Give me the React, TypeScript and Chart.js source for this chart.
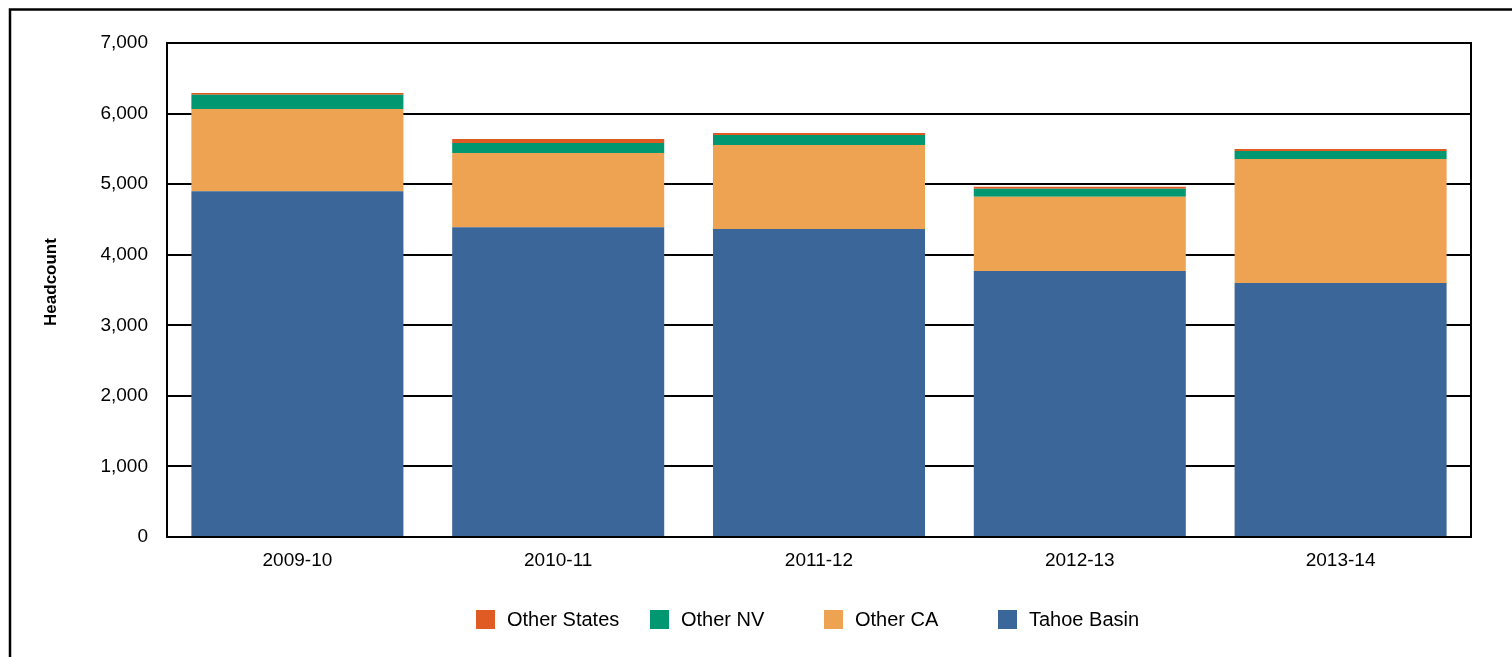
import React, { useEffect, useRef } from "react";
import { Chart, registerables } from "chart.js";

Chart.register(...registerables);

const categories = ["2009-10", "2010-11", "2011-12", "2012-13", "2013-14"];
const tahoeBasin = [4900, 4390, 4365, 3770, 3600];
const otherCA = [1165, 1050, 1190, 1050, 1755];
const otherNV = [200, 142, 141, 113, 114];
const otherStates = [28, 57, 29, 29, 28];
const yTicksMax = 7000;
const yTickStep = 1000;
const yTitle = "Headcount";

const seriesNames = ["Tahoe Basin", "Other CA", "Other NV", "Other States"];
const seriesColors = ["#3B6699", "#EEA353", "#009771", "#E05A23"];

const FONT = "'Liberation Sans', Arial, sans-serif";

const decorPlugin = {
  id: "decor",
  afterDraw(chart: any) {
    const { ctx, chartArea } = chart;
    ctx.save();
    // outer frame
    ctx.strokeStyle = "#000";
    ctx.lineWidth = 2.5;
    ctx.beginPath();
    ctx.moveTo(10, 700);
    ctx.lineTo(10, 9.5);
    ctx.lineTo(1520, 9.5);
    ctx.stroke();
    // plot frame
    ctx.lineWidth = 2;
    ctx.strokeRect(chartArea.left, chartArea.top, chartArea.right - chartArea.left, chartArea.bottom - chartArea.top);
    // y title
    ctx.fillStyle = "#000";
    ctx.font = `bold 17px ${FONT}`;
    ctx.textAlign = "center";
    ctx.textBaseline = "middle";
    ctx.translate(51, 282);
    ctx.rotate(-Math.PI / 2);
    ctx.fillText(yTitle, 0, 0);
    ctx.restore();

    // legend (reverse order of stacking)
    ctx.save();
    const ds = chart.data.datasets.slice().reverse();
    const startX = 476;
    const step = 174;
    const boxY = 610;
    const box = 19;
    ctx.font = `20px ${FONT}`;
    ctx.textBaseline = "middle";
    ctx.textAlign = "left";
    ds.forEach((d: any, i: number) => {
      const x = startX + i * step;
      ctx.fillStyle = d.backgroundColor;
      ctx.fillRect(x, boxY, box, box);
      ctx.fillStyle = "#000";
      ctx.fillText(d.label, x + box + 12, boxY + box / 2 + 1);
    });
    ctx.restore();
  },
};

export default function App() {
  const ref = useRef<HTMLCanvasElement>(null);
  useEffect(() => {
    if (!ref.current) return;
    const values = [tahoeBasin, otherCA, otherNV, otherStates];
    const chart = new Chart(ref.current, {
      type: "bar",
      data: {
        labels: categories,
        datasets: values.map((v, i) => ({
          label: seriesNames[i],
          data: v,
          backgroundColor: seriesColors[i],
          borderWidth: 0,
          barPercentage: 1,
          categoryPercentage: 0.813,
        })),
      },
      options: {
        animation: false,
        responsive: false,
        maintainAspectRatio: false,
        layout: { padding: { left: 0, top: 43, right: 41, bottom: 0 } },
        plugins: { legend: { display: false }, tooltip: { enabled: false }, title: { display: false } },
        scales: {
          x: {
            stacked: true,
            grid: { display: false, drawTicks: false },
            border: { display: false },
            ticks: { color: "#000", font: { family: FONT, size: 19 }, padding: 12 },
            afterFit(scale: any) {
              scale.height = 120;
            },
          },
          y: {
            stacked: true,
            min: 0,
            max: yTicksMax,
            grid: { color: "#000", lineWidth: 2, drawTicks: false },
            border: { display: false },
            ticks: { stepSize: yTickStep, color: "#000", font: { family: FONT, size: 19 }, padding: 19 },
            afterFit(scale: any) {
              scale.width = 167;
            },
          },
        },
      },
      plugins: [decorPlugin],
    });
    return () => chart.destroy();
  }, []);
  return (
    <div style={{ position: "fixed", left: 0, top: 0, width: 1512, height: 657, background: "#fff" }}>
      <canvas ref={ref} width={1512} height={657} style={{ width: 1512, height: 657 }} />
    </div>
  );
}
